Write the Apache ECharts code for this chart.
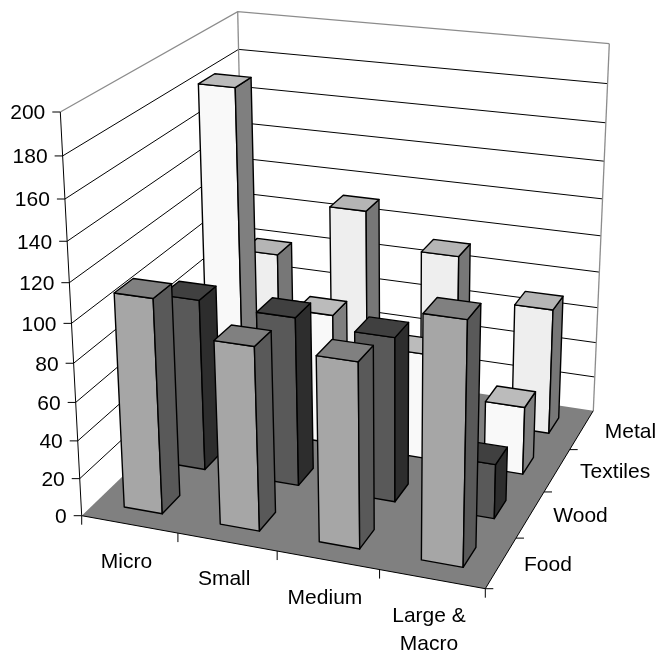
<!DOCTYPE html>
<html>
<head>
<meta charset="utf-8">
<style>
	html, body { margin: 0; padding: 0; background: #fff; }
	#chart { width: 661px; height: 653px; }
</style>
<script src="https://cdn.jsdelivr.net/npm/echarts@6/dist/echarts.min.js"></script>
</head>
<body>
<div id="chart"></div>
<script>
	// data
	var categories = ['Micro', 'Small', 'Medium', 'Large &\nMacro'];
	var depths = ['Food', 'Wood', 'Textiles', 'Metal'];
	var foodValues = [111.5, 95, 95, 122.5];
	var woodValues = [92, 90, 87, 29];
	var textilesValues = [184.5, 72, 58, 37];
	var metalValues = [80.5, 111, 92.5, 70];
	var yTicks = [0, 20, 40, 60, 80, 100, 120, 140, 160, 180, 200];

	// camera: where the corners of the 3d box land on the page
	var floorCorners = [[81.7, 515.7], [485.3, 588.7], [593.3, 410.7], [245.5, 358]];
	var topCorners = [[60.3, 112], [495.6, 162], [609.3, 43.7], [237.7, 11.7]];
	var heightWeight = 0.91;
	var barFill = 0.4;

	var fontFamily = '"Liberation Sans", Arial, sans-serif';
	var barColors = {
		Food: { front: '#a6a6a6', top: '#808080', side: '#595959' },
		Wood: { front: '#595959', top: '#404040', side: '#2d2d2d' },
		Textiles: { front: '#f9f9f9', top: '#bbbbbb', side: '#7f7f7f' },
		Metal: { front: '#eeeeee', top: '#b5b5b5', side: '#777777' }
	};

	function homography(q) {
		var dx1 = q[1][0] - q[2][0], dx2 = q[3][0] - q[2][0], sx = q[0][0] - q[1][0] + q[2][0] - q[3][0];
		var dy1 = q[1][1] - q[2][1], dy2 = q[3][1] - q[2][1], sy = q[0][1] - q[1][1] + q[2][1] - q[3][1];
		var den = dx1 * dy2 - dx2 * dy1;
		var g = (sx * dy2 - dx2 * sy) / den;
		var h = (dx1 * sy - sx * dy1) / den;
		return function (u, v) {
			var w = g * u + h * v + 1;
			return [
				((q[1][0] - q[0][0] + g * q[1][0]) * u + (q[3][0] - q[0][0] + h * q[3][0]) * v + q[0][0]) / w,
				((q[1][1] - q[0][1] + g * q[1][1]) * u + (q[3][1] - q[0][1] + h * q[3][1]) * v + q[0][1]) / w
			];
		};
	}
	var floorMap = homography(floorCorners);
	var topMap = homography(topCorners);

	// t is the share of the value axis, taken from the chart's own y axis
	function heightShare(api, value) {
		var zero = api.coord([0, 0])[1];
		var full = api.coord([0, 200])[1];
		return (zero - api.coord([0, value])[1]) / (zero - full);
	}
	function project(u, v, t) {
		var a = floorMap(u, v), b = topMap(u, v);
		var d = (1 - t) + heightWeight * t;
		return [
			(a[0] * (1 - t) + heightWeight * b[0] * t) / d,
			(a[1] * (1 - t) + heightWeight * b[1] * t) / d
		];
	}

	function poly(points, fill) {
		return {
			type: 'polygon',
			shape: { points: points },
			style: { fill: fill, stroke: '#000', lineWidth: 1.4, lineJoin: 'round' }
		};
	}
	function line(points, color, width) {
		return {
			type: 'polyline',
			shape: { points: points },
			style: { fill: null, stroke: color, lineWidth: width }
		};
	}
	function label(text, x, y, align) {
		return {
			type: 'text',
			x: x,
			y: y,
			style: {
				text: text,
				fill: '#000',
				font: '21px ' + fontFamily,
				lineHeight: 28,
				align: align,
				verticalAlign: 'middle'
			}
		};
	}

	function renderBar(params, api) {
		var cat = api.value(0);
		var row = api.value(1);
		var t = heightShare(api, api.value(2));
		var colors = barColors[depths[row]];
		var n = categories.length, m = depths.length;
		var u0 = (cat + (1 - barFill) / 2) / n, u1 = (cat + (1 + barFill) / 2) / n;
		var v0 = (row + (1 - barFill) / 2) / m, v1 = (row + (1 + barFill) / 2) / m;
		return {
			type: 'group',
			children: [
				poly([project(u0, v0, 0), project(u1, v0, 0), project(u1, v0, t), project(u0, v0, t)], colors.front),
				poly([project(u1, v0, 0), project(u1, v1, 0), project(u1, v1, t), project(u1, v0, t)], colors.side),
				poly([project(u0, v0, t), project(u1, v0, t), project(u1, v1, t), project(u0, v1, t)], colors.top)
			]
		};
	}

	function renderFloor() {
		var fl = project(0, 0, 0), fr = project(1, 0, 0), br = project(1, 1, 0), bl = project(0, 1, 0);
		return {
			type: 'group',
			children: [
				{ type: 'polygon', shape: { points: [fl, fr, br, bl] }, style: { fill: '#808080' } },
				line([fl, fr, br], '#000', 1)
			]
		};
	}

	function renderWallTick(params, api) {
		var value = api.value(0);
		var t = heightShare(api, value);
		var left = project(0, 0, t), corner = project(0, 1, t), right = project(1, 1, t);
		var children = [
			line([[left[0] - 8, left[1]], left], '#000', 1),
			label(String(value), left[0] - 15, left[1] + 1.5, 'right')
		];
		if (value > 0) {
			var isTop = value === yTicks[yTicks.length - 1];
			children.push(line([left, corner, right], isTop ? '#8c8c8c' : '#000', isTop ? 1.3 : 1));
		}
		return { type: 'group', children: children };
	}

	function renderWallEdges() {
		return {
			type: 'group',
			children: [
				line([project(0, 1, 0), project(0, 1, 1)], '#8c8c8c', 1.3),
				line([project(1, 1, 0), project(1, 1, 1)], '#8c8c8c', 1.3),
				line([project(0, 0, 0), project(0, 0, 1)], '#000', 1),
				line([project(0, 0, 0), [project(0, 0, 0)[0], project(0, 0, 0)[1] + 9]], '#000', 1)
			]
		};
	}

	function renderCategoryLabel(params, api) {
		var i = api.value(0);
		var n = categories.length;
		var end = project((i + 1) / n, 0, 0);
		var mid = project((i + 0.5) / n, 0, 0);
		return {
			type: 'group',
			children: [
				line([end, [end[0], end[1] + 9]], '#000', 1),
				label(categories[i], mid[0] - 3, mid[1] + 37.5 + (i === n - 1 ? 14 : 0), 'center')
			]
		};
	}

	function renderDepthLabel(params, api) {
		var i = api.value(0);
		var m = depths.length;
		var end = project(1, i / m, 0);
		var mid = project(1, (i + 0.5) / m, 0);
		return {
			type: 'group',
			children: [
				line([end, [end[0] + 8, end[1]]], '#000', 1),
				label(depths[i], mid[0] + 23, mid[1] + 2, 'left')
			]
		};
	}

	function barSeries(name, values) {
		var row = depths.indexOf(name);
		return {
			name: name,
			type: 'custom',
			renderItem: renderBar,
			clip: false,
			z: 10 + (depths.length - row),
			encode: { x: 0, y: 2 },
			data: values.map(function (v, i) { return [i, row, v]; })
		};
	}
	function frameSeries(renderItem, data, z) {
		return { type: 'custom', renderItem: renderItem, clip: false, silent: true, z: z, data: data, encode: { x: 0, y: 1 } };
	}

	var myChart = echarts.init(document.getElementById('chart'));
	myChart.setOption({
		animation: false,
		backgroundColor: '#fff',
		grid: { left: 0, right: 0, top: 0, bottom: 0 },
		xAxis: { type: 'category', show: false, data: categories },
		yAxis: { type: 'value', show: false, min: 0, max: 200, interval: 20 },
		series: [
			frameSeries(renderWallTick, yTicks.map(function (v) { return [v]; }), 1),
			frameSeries(renderWallEdges, [[0]], 2),
			frameSeries(renderFloor, [[0]], 3),
			frameSeries(renderCategoryLabel, categories.map(function (c, i) { return [i]; }), 4),
			frameSeries(renderDepthLabel, depths.map(function (d, i) { return [i]; }), 4),
			barSeries('Metal', metalValues),
			barSeries('Textiles', textilesValues),
			barSeries('Wood', woodValues),
			barSeries('Food', foodValues)
		]
	});
</script>
</body>
</html>
